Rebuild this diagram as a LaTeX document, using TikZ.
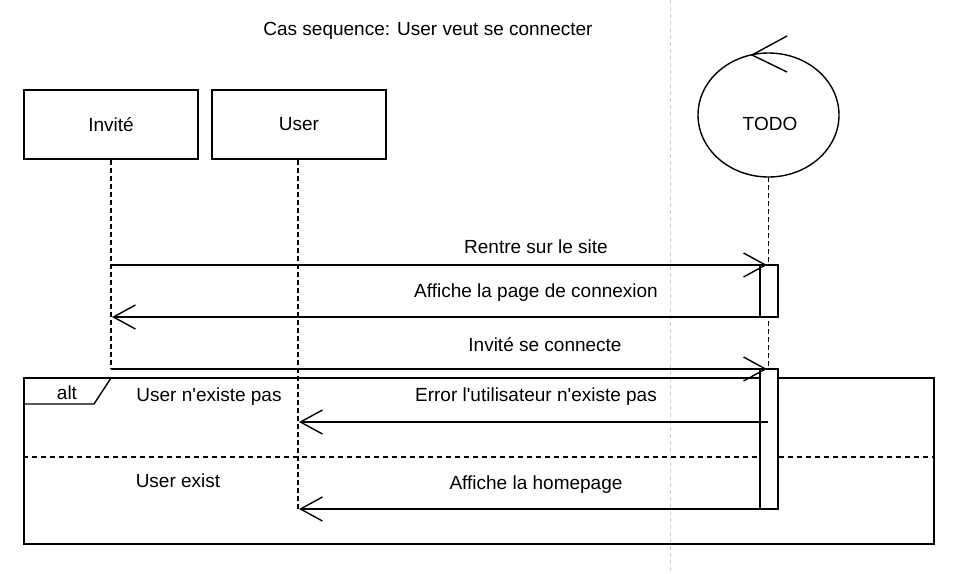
\documentclass[tikz,border=0pt]{standalone}
\usepackage{fontspec}
\setmainfont{Liberation Sans}
\newfontfamily\lsans{Liberation Sans}[Ligatures=ResetAll]
\usetikzlibrary{arrows.meta}
\begin{document}
\begin{tikzpicture}[x=1pt,y=-1pt,
  line width=1.4pt,
  txt/.style={font=\lsans\fontsize{19}{22}\selectfont, inner sep=0pt, anchor=center},
  lbl/.style={txt},
  actor/.style={draw, rectangle, minimum width=174pt, minimum height=69pt, txt},
  life/.style={dash pattern=on 5pt off 3pt, line width=1.4pt},
  msg/.style={-{Straight Barb[length=22pt,width=24pt,line width=1.4pt]}},
  bar/.style={draw, fill=white}
]
\useasboundingbox (0,0) rectangle (960,573);
% gray separator
\draw[gray!40, line width=0.8pt, dash pattern=on 4pt off 3pt] (670,0) -- (670,573);
% title
\node[txt] (title) at (428,31) {Cas sequence: User veut se connecter};
% actors
\node[actor] (invite) at (111,124.5) {Invité};
\node[actor] (user) at (299,124.5) {User};
\draw (768.5,115) ellipse [x radius=70.5, y radius=62];
\node[txt] (todo) at (770,124) {TODO};
\coordinate (todobot) at (768.5,177);
\coordinate (ta1) at (787,36);
\coordinate (ttip) at (752,55);
\coordinate (ta2) at (787,72);
\draw (ta1) -- (ttip) -- (ta2);
% lifelines
\coordinate (invend) at (111,369);
\coordinate (userend) at (298,509);
\coordinate (todoend) at (768.5,509);
\draw[life] (invite.south -| invend) -- (invend);
\draw[life] (user.south -| userend) -- (userend);
\draw[life] (todobot) -- (todoend);
% alt frame
\node[draw, rectangle, minimum width=910pt, minimum height=166pt, inner sep=0pt] (alt) at (479,461) {};
\draw[dash pattern=on 5pt off 4pt] (alt.west |- 0,457) coordinate (sepl) -- (alt.east |- 0,457) coordinate (sepr);
\draw (24,378) -- (111,378) -- (94,404) -- (24,404);
\node[txt] (altlbl) at (67,393) {alt};
\node[txt] (g1) at (209,397) {User n'existe pas};
\node[txt] (g2) at (178,481) {User exist};
% activation bars
\node[bar, minimum width=18pt, minimum height=52pt, inner sep=0pt] (bar1) at (769,291) {};
\node[bar, minimum width=18pt, minimum height=140pt, inner sep=0pt] (bar2) at (769,439) {};
% messages
\coordinate (m1s) at (111,265);
\coordinate (m1e) at (767,265);
\draw[msg] (m1s) -- (m1e);
\node[lbl] (l1) at (536,247) {Rentre sur le site};
\coordinate (m2s) at (778,317);
\coordinate (m2e) at (112,317);
\draw[msg] (m2s) -- (m2e);
\node[lbl] (l2) at (536,293) {Affiche la page de connexion};
\coordinate (m3s) at (111,369);
\coordinate (m3e) at (767,369);
\draw[msg] (m3s) -- (m3e);
\node[lbl] (l3) at (545,345) {Invité se connecte};
\coordinate (m4s) at (768,422);
\coordinate (m4e) at (299,422);
\draw[msg] (m4s) -- (m4e);
\node[lbl] (l4) at (536,397) {Error l'utilisateur n'existe pas};
\coordinate (m5s) at (778,509);
\coordinate (m5e) at (299,509);
\draw[msg] (m5s) -- (m5e);
\node[lbl] (l5) at (536,485) {Affiche la homepage};
\end{tikzpicture}
\end{document}
